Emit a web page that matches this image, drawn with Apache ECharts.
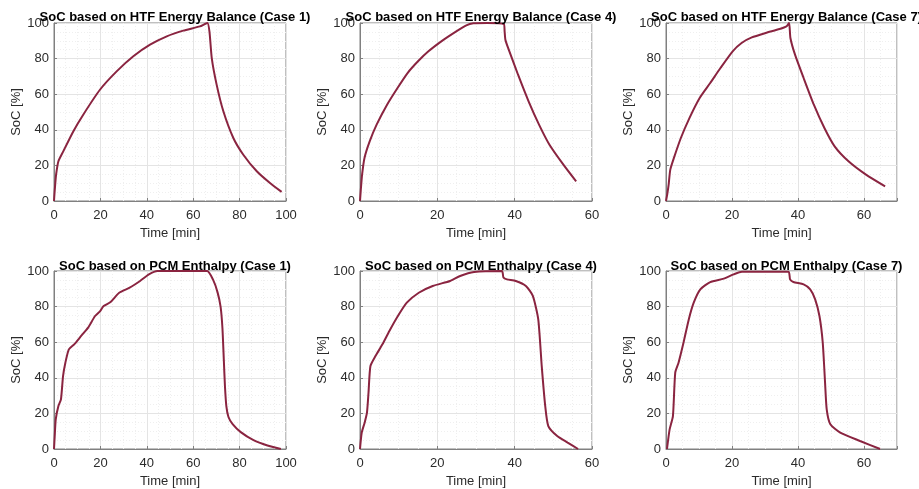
<!DOCTYPE html>
<html>
<head>
<meta charset="utf-8">
<title>SoC comparison</title>
<script src="https://cdn.jsdelivr.net/npm/echarts@6/dist/echarts.min.js"></script>
<style>
  html, body { margin: 0; padding: 0; background: #ffffff; }
  #chart { width: 919px; height: 489px; }
</style>
</head>
<body>
<div id="chart"></div>
<script>
// Panel titles (row-major: HTF energy balance on top, PCM enthalpy below)
const titles = [
  'SoC based on HTF Energy Balance (Case 1)',
  'SoC based on HTF Energy Balance (Case 4)',
  'SoC based on HTF Energy Balance (Case 7)',
  'SoC based on PCM Enthalpy (Case 1)',
  'SoC based on PCM Enthalpy (Case 4)',
  'SoC based on PCM Enthalpy (Case 7)'
];

// Time axis upper limits [min] per panel
const timeMax = [100, 60, 70, 100, 60, 70];

// SoC axis ticks [%]
const socTicks = [0, 20, 40, 60, 80, 100];

// HTF energy balance, Case 1
const htfCase1Time = [0, 0.2, 0.5, 0.9, 1.9, 4, 8.3, 12.6, 19.8, 27, 34.2, 41.4, 48.6, 55.7, 62.9, 66.1, 67, 68, 70.1, 73, 77.3, 81.6, 87.4, 93.1, 98.1];
const htfCase1Soc  = [0, 4, 9, 14.8, 22.3, 27.9, 39.1, 48.5, 62.5, 72.8, 81.3, 87.8, 92.5, 95.7, 98.1, 100, 95.3, 80.3, 65.4, 50.4, 35.4, 26, 16.7, 10.1, 5.1];

// HTF energy balance, Case 4
const htfCase4Time = [0, 0.2, 0.54, 1.16, 2.5, 4.3, 7, 9.7, 12.3, 15, 17.7, 21.3, 24.9, 27.5, 29.3, 32.9, 37.2, 37.4, 37.6, 38.3, 40.9, 43.6, 46.3, 49, 52.6, 55.9];
const htfCase4Soc  = [0, 6, 14.8, 24.2, 33.5, 42.9, 54.1, 63.5, 71.9, 78.5, 84.1, 90.1, 95.3, 98.7, 99.8, 100, 99.4, 95.3, 90.6, 86, 70.8, 56, 42.9, 31.6, 20.4, 11];

// HTF energy balance, Case 7
const htfCase7Time = [0, 0.4, 0.8, 1.3, 2.4, 4.5, 7.1, 10.2, 13.4, 16.5, 20.2, 22.9, 26, 30.2, 34.4, 36.5, 37.3, 37.7, 39.1, 41.7, 44.8, 48, 51.1, 55.3, 60.6, 66.4];
const htfCase7Soc  = [0, 4, 9.2, 17.6, 24.2, 35.4, 46.6, 57.9, 66.3, 74.7, 84.1, 88.8, 91.9, 94.4, 96.6, 98.1, 100, 91.6, 82.2, 69.1, 54.1, 41, 30.7, 22.3, 14.8, 8.2];

// PCM enthalpy, Case 1
const pcmCase1Time = [0, 0.3, 0.75, 1.9, 3, 3.9, 4.9, 6.4, 8.7, 11.7, 14.7, 17.7, 19.9, 21.4, 24.4, 28.1, 32.6, 37.1, 40.9, 44.6, 66, 68.6, 70.5, 71.8, 72.6, 73.2, 73.7, 74.3, 75.2, 77, 80.5, 86, 92, 97.8];
const pcmCase1Soc  = [0, 7, 16.7, 24.2, 27.9, 41, 48.5, 56, 58.8, 63.5, 68.2, 74.7, 77.5, 80.3, 82.6, 87.8, 90.6, 94.4, 98.1, 100, 100, 95, 88, 80, 68, 50, 35, 24, 18, 14, 9.5, 5, 2, 0];

// PCM enthalpy, Case 4
const pcmCase4Time = [0, 0.45, 1.2, 1.8, 2.2, 2.7, 4, 5.8, 7.6, 9.8, 12.1, 15.2, 18.8, 23.3, 25.9, 29.5, 36.7, 37.1, 38, 40.3, 42.9, 44.7, 46.1, 47, 47.9, 48.7, 51, 53.7, 56.4];
const pcmCase4Soc  = [0, 9.2, 14.8, 20.4, 31.6, 46.6, 52.2, 58.8, 66.3, 74.7, 82.2, 87.8, 91.6, 94.4, 97.2, 99.4, 100, 96.3, 95.3, 94.4, 91.6, 86, 72.8, 46.6, 24.2, 12.9, 7.3, 3.6, 0];

// PCM enthalpy, Case 7
const pcmCase7Time = [0.3, 1.1, 2.1, 2.8, 3.8, 5.3, 6.9, 8.4, 10.4, 13.4, 17.5, 20.5, 23, 37.1, 37.6, 38.6, 41.7, 43.7, 45.2, 46.5, 47.5, 48.2, 48.7, 49.8, 52.8, 58.8, 64.9];
const pcmCase7Soc  = [0, 11, 18.5, 42.9, 48.5, 59.7, 72.8, 82.2, 89.7, 93.8, 95.7, 98.1, 99.6, 99.6, 95.3, 93.8, 92.5, 89.7, 84.1, 74.7, 59.7, 37.3, 22.3, 13.9, 9.2, 4.5, 0];

const panelTimes = [htfCase1Time, htfCase4Time, htfCase7Time, pcmCase1Time, pcmCase4Time, pcmCase7Time];
const panelSocs  = [htfCase1Soc, htfCase4Soc, htfCase7Soc, pcmCase1Soc, pcmCase4Soc, pcmCase7Soc];

// Layout of the 3x2 subplot grid (pixels)
const colLeft  = [54, 360, 666];
const colWidth = [232, 232, 231];
const rowTop   = [23, 271];
const plotH    = 178;
const titleY   = [6, 255];

const FONT = '"Liberation Sans", Arial, Helvetica, sans-serif';
const LINE_COLOR = '#8a2440';
const TEXT_COLOR = '#2b2b2b';
const BOX_COLOR = '#808080';

const grids = [], xAxes = [], yAxes = [], series = [], titleList = [];

for (let i = 0; i < 6; i++) {
  const c = i % 3, r = Math.floor(i / 3);
  grids.push({
    left: colLeft[c], top: rowTop[r], width: colWidth[c], height: plotH,
    show: true, borderColor: BOX_COLOR, borderWidth: 1, backgroundColor: '#ffffff'
  });
  titleList.push({
    text: titles[i],
    left: colLeft[c] + colWidth[c] / 2,
    top: titleY[r],
    textAlign: 'center',
    textStyle: { fontFamily: FONT, fontSize: 13, fontWeight: 'bold', color: '#000000' }
  });
  const xm = timeMax[i];
  xAxes.push({
    type: 'value', gridIndex: i, min: 0, max: xm, interval: 20,
    name: 'Time [min]', nameLocation: 'middle', nameGap: 26,
    nameTextStyle: { fontFamily: FONT, fontSize: 13, color: TEXT_COLOR },
    axisLine: { show: true, onZero: false, lineStyle: { color: BOX_COLOR, width: 1 } },
    axisTick: { show: true, inside: true, length: 3, lineStyle: { color: BOX_COLOR } },
    axisLabel: {
      fontFamily: FONT, fontSize: 13, color: TEXT_COLOR, margin: 8,
      formatter: v => (v % 20 === 0 ? String(v) : '')
    },
    splitLine: { show: true, lineStyle: { color: '#e4e4e4', width: 1 } },
    minorTick: { show: false, splitNumber: 4 },
    minorSplitLine: { show: true, lineStyle: { color: '#efefef', width: 1, type: [1, 2] } }
  });
  yAxes.push({
    type: 'value', gridIndex: i, min: socTicks[0], max: socTicks[socTicks.length - 1], interval: 20,
    name: 'SoC [%]', nameLocation: 'middle', nameGap: 27,
    nameTextStyle: { fontFamily: FONT, fontSize: 13, color: TEXT_COLOR },
    axisLine: { show: true, lineStyle: { color: BOX_COLOR, width: 1 } },
    axisTick: { show: true, inside: true, length: 3, lineStyle: { color: BOX_COLOR } },
    axisLabel: { fontFamily: FONT, fontSize: 13, color: TEXT_COLOR, margin: 5 },
    splitLine: { show: true, lineStyle: { color: '#e4e4e4', width: 1 } },
    minorTick: { show: false, splitNumber: 4 },
    minorSplitLine: { show: true, lineStyle: { color: '#efefef', width: 1, type: [1, 2] } }
  });
  series.push({
    type: 'line', xAxisIndex: i, yAxisIndex: i,
    data: panelTimes[i].map((t, k) => [t, panelSocs[i][k]]),
    showSymbol: false, symbol: 'none',
    smooth: 0.2,
    lineStyle: { color: LINE_COLOR, width: 2 },
    animation: false
  });
}

const chart = echarts.init(document.getElementById('chart'), null, { renderer: 'canvas' });
chart.setOption({
  backgroundColor: '#ffffff',
  animation: false,
  title: titleList,
  grid: grids,
  xAxis: xAxes,
  yAxis: yAxes,
  series: series
});
</script>
</body>
</html>
